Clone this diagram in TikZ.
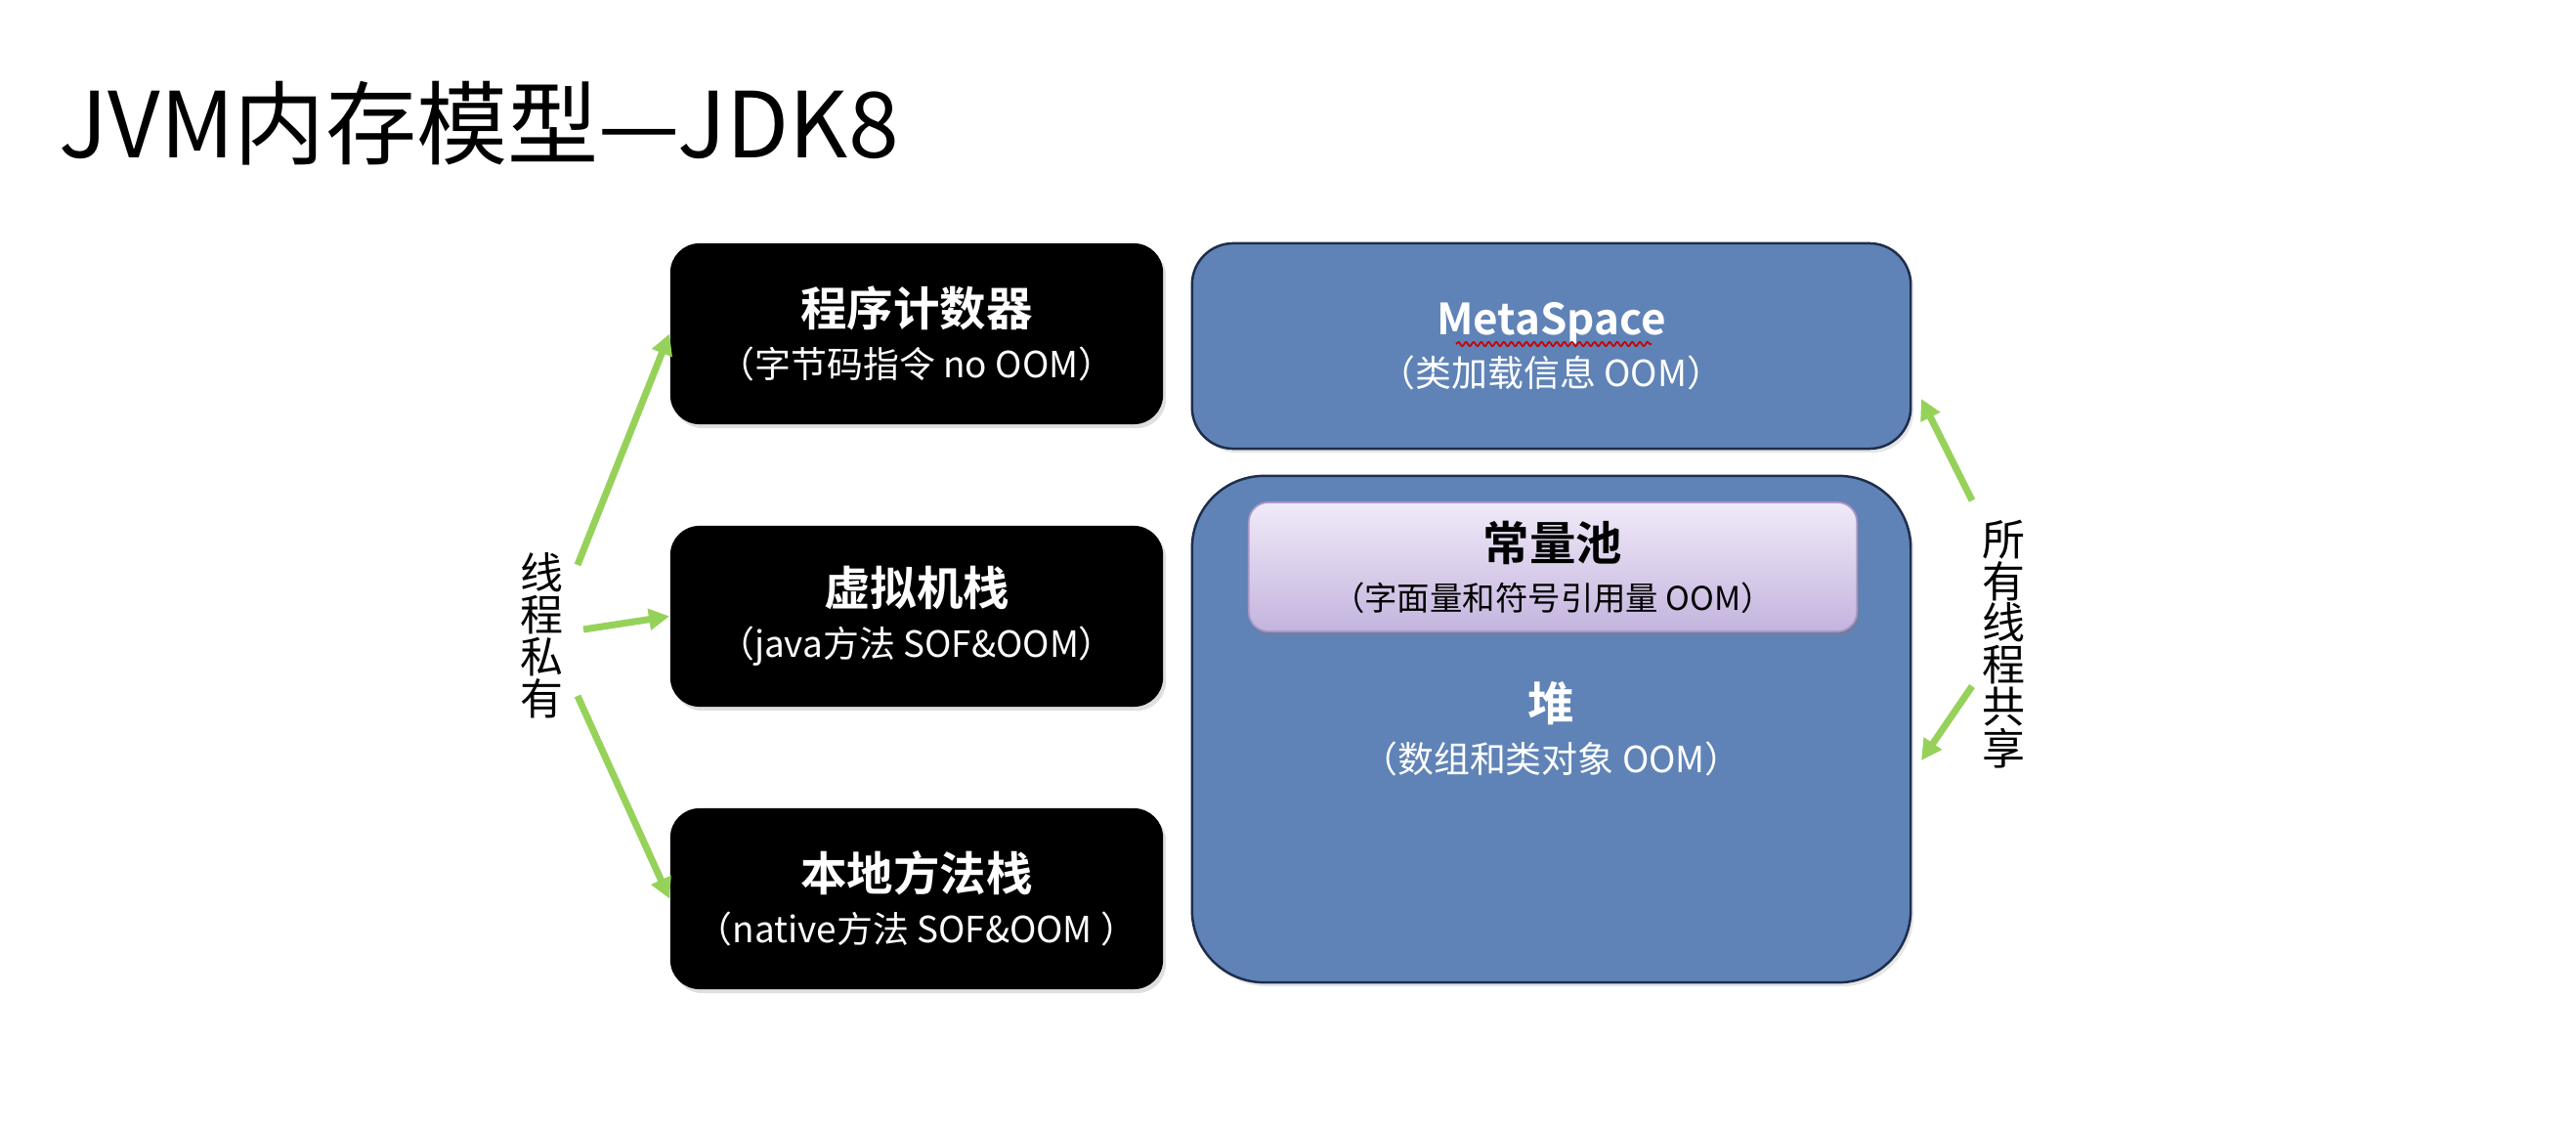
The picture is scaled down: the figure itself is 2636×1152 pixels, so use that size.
\documentclass[tikz,border=0pt]{standalone}
\usepackage{fontspec}
\setmainfont{Noto Sans CJK SC}[BoldFont={Noto Sans CJK SC Bold}]
\usetikzlibrary{arrows.meta,shadows,decorations.pathmorphing}
\definecolor{arrowgreen}{RGB}{150,210,90}
\definecolor{memblue}{RGB}{95,131,183}
\definecolor{memborder}{RGB}{30,45,75}
\definecolor{pooltop}{RGB}{240,234,248}
\definecolor{poolbot}{RGB}{196,180,222}
\definecolor{poolborder}{RGB}{170,150,200}
\tikzset{
  blackbox/.style={fill=black, rounded corners=8.5pt, minimum width=5.04cm, minimum height=1.85cm,
    text=white, align=center, inner sep=0pt,
    drop shadow={opacity=0.25, shadow xshift=0.03cm, shadow yshift=-0.04cm},
    font=\fontsize{10.5}{15}\selectfont},
  bluebox/.style={fill=memblue, draw=memborder, line width=0.7pt, align=center, inner sep=0pt,
    text=white, font=\fontsize{10.5}{15}\selectfont,
    drop shadow={opacity=0.2, shadow xshift=0.03cm, shadow yshift=-0.04cm}},
  poolbox/.style={top color=pooltop, bottom color=poolbot, draw=poolborder, line width=0.5pt,
    rounded corners=5.7pt, minimum width=6.22cm, minimum height=1.32cm, align=center, inner sep=0pt,
    text=black, font=\fontsize{9.5}{14.5}\selectfont,
    drop shadow={opacity=0.35, shadow xshift=0.02cm, shadow yshift=-0.05cm}},
  vlabel/.style={align=center, inner sep=0pt, font=\fontsize{12.5}{12.2}\selectfont},
  garrow/.style={draw=arrowgreen, line width=2pt, -{Triangle[length=6pt, width=6pt]}},
  boxtitle/.style={},
}
\newcommand{\bt}[1]{{\fontsize{13.5}{15}\selectfont\bfseries #1}}
\begin{document}
\begin{tikzpicture}[x=0.01cm, y=-0.01cm]
\useasboundingbox (0,0) rectangle (2636,1152);
\fill[white] (0,0) rectangle (2636,1152);

% title
\node[anchor=west, inner sep=0pt, font=\fontsize{26.5}{30}\selectfont] (title) at (60,126) {JVM内存模型—JDK8};

% thread-private boxes
\node[blackbox] (pc) at (938,341.5) {\bt{程序计数器}\\（字节码指令 no OOM）};
\node[blackbox] (vms) at (938,630.5) {\bt{虚拟机栈}\\（java方法 SOF\&OOM）};
\node[blackbox] (nms) at (938,919.5) {\bt{本地方法栈}\\（native方法 SOF\&OOM ）};

% shared
\node[bluebox, rounded corners=12pt, minimum width=7.35cm, minimum height=2.10cm] (ms) at (1587.5,354)
  {{\fontsize{12.5}{15}\selectfont\bfseries MetaSpace}\\（类加载信息 OOM）};
\draw[red!80!black, line width=0.5pt, decorate, decoration={snake, amplitude=0.6pt, segment length=2.2pt}]
  (1490,352) -- (1690,352);
\node[bluebox, rounded corners=21pt, minimum width=7.35cm, minimum height=5.18cm] (heap) at (1587.5,746) {};
\node[poolbox] (pool) at (1589,580) {\bt{常量池}\\（字面量和符号引用量 OOM）};
\node[align=center, text=white, inner sep=0pt, font=\fontsize{10.5}{15}\selectfont] (heaptext) at (1587.5,746)
  {\bt{堆}\\（数组和类对象 OOM）};

% vertical labels
\node[vlabel] (private) at (554,650) {线\\程\\私\\有};
\node[vlabel] (shared) at (2050,659) {所\\有\\线\\程\\共\\享};

% arrow anchors
\coordinate (p1) at (591,578);
\coordinate (p2) at (597,644);
\coordinate (p3) at (591,712);
\coordinate (s1) at (2018,512);
\coordinate (s2) at (2018,702);
\coordinate (m1) at (1966,408);
\coordinate (h1) at (1966,778);

\draw[garrow] (p1) -- (pc.west);
\draw[garrow] (p2) -- (vms.west);
\draw[garrow] (p3) -- (nms.west);
\draw[garrow] (s1) -- (m1);
\draw[garrow] (s2) -- (h1);
\end{tikzpicture}
\end{document}
